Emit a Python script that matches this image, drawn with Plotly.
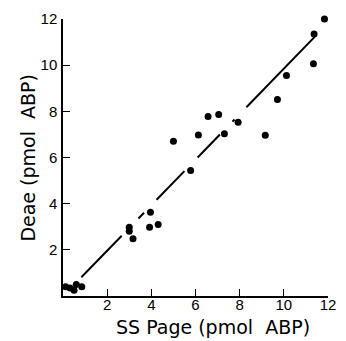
import plotly.graph_objects as go

# Data
ss_page = [0.12, 0.32, 0.50, 0.60, 0.85,
           3.00, 3.00, 3.17, 3.92, 3.96, 4.31,
           5.00, 5.78, 6.13, 6.57, 7.05, 7.31, 7.93,
           9.16, 9.71, 10.12, 11.34, 11.37, 11.84]
deae = [0.40, 0.35, 0.25, 0.50, 0.40,
        2.98, 2.80, 2.48, 2.98, 3.63, 3.10,
        6.70, 5.44, 6.97, 7.78, 7.86, 7.03, 7.53,
        6.96, 8.51, 9.55, 10.06, 11.35, 12.00]

fit_x = [0.83, 12.0]
fit_y = [0.81, 11.82]

tick_vals = [2, 4, 6, 8, 10, 12]
tick_text = ["2", "4", "6", "8", "10", "12"]

x_title = "SS Page (pmol&nbsp;&nbsp;ABP)"
y_title = "Deae (pmol&nbsp;&nbsp;ABP)"

fig = go.Figure()
fig.add_trace(go.Scatter(
    x=fit_x, y=fit_y, mode="lines",
    line=dict(color="black", width=2,
              dash="58px,24px,8px,18px,40px,19px,32px,18px,3px,17px,98px,19px,14px"),
    hoverinfo="skip", showlegend=False))
fig.add_trace(go.Scatter(
    x=ss_page, y=deae, mode="markers",
    marker=dict(color="black", size=7, line=dict(width=0)),
    showlegend=False, cliponaxis=False))

axis_common = dict(
    range=[0, 12], tickvals=tick_vals, ticktext=tick_text,
    ticks="inside", ticklen=7, tickwidth=1.3, tickcolor="black",
    showline=True, linewidth=1.5, linecolor="black",
    showgrid=False, zeroline=False,
    tickfont=dict(family="Liberation Sans, Arial, sans-serif", size=15, color="black"),
)
fig.update_xaxes(ticklabelstandoff=-6, **axis_common)
fig.update_yaxes(ticklabelstandoff=1, **axis_common)

fig.update_layout(
    width=346, height=341,
    margin=dict(l=63, r=10, t=16, b=45),
    paper_bgcolor="white", plot_bgcolor="white",
    font=dict(family="DejaVu Sans, sans-serif", color="black"),
    annotations=[
        dict(text=x_title, xref="paper", yref="paper", x=0.565, y=-0.111,
             xanchor="center", yanchor="middle", showarrow=False,
             font=dict(family="DejaVu Sans, sans-serif", size=19, color="black")),
        dict(text=y_title, xref="paper", yref="paper", x=-0.13, y=0.498,
             xanchor="center", yanchor="middle", showarrow=False, textangle=-90,
             font=dict(family="DejaVu Sans, sans-serif", size=19, color="black")),
    ],
)

fig.write_html(
    "out.html",
    config={"displayModeBar": False},
    post_script="document.body.style.margin='0';document.body.style.padding='0';",
)
